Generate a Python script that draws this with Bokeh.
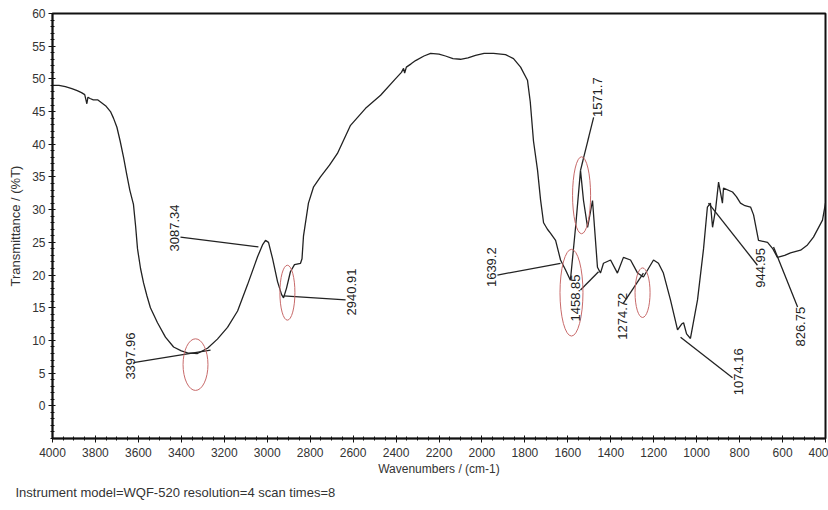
from bokeh.plotting import figure
from bokeh.models import Range1d, FixedTicker, Title, ColumnDataSource
from bokeh.embed import file_html
from bokeh.resources import INLINE
from bokeh.core.properties import value
import math

# ---- spectrum ----
wavenumber = [4000, 3970, 3940, 3910, 3885, 3865, 3850, 3845, 3840, 3835,
              3825, 3810, 3790, 3770, 3750, 3730, 3716, 3700, 3685, 3669,
              3655, 3640, 3623, 3613, 3604, 3590, 3576, 3560, 3544, 3511,
              3474, 3436, 3400, 3371, 3325, 3278, 3232, 3185, 3138, 3092,
              3045, 3022, 3008, 2994, 2975, 2952, 2933, 2924, 2910, 2892,
              2873, 2845, 2838, 2831, 2808, 2784, 2752, 2710, 2673, 2612,
              2542, 2472, 2403, 2375, 2365, 2360, 2352, 2330, 2309, 2270,
              2239, 2200, 2170, 2135, 2100, 2065, 2030, 1990, 1946, 1890,
              1853, 1820, 1788, 1775, 1760, 1741, 1727, 1713, 1695, 1681,
              1657, 1634, 1611, 1588, 1564, 1541, 1527, 1508, 1485, 1462,
              1448, 1434, 1401, 1369, 1341, 1308, 1275, 1248, 1201, 1178,
              1155, 1122, 1089, 1070, 1061, 1047, 1029, 996, 968, 950,
              936, 926, 912, 898, 880, 875, 833, 815, 796, 775,
              749, 735, 712, 670, 645, 624, 590, 563, 516, 484,
              456, 414, 400]
transmittance = [49.0, 49.0, 48.8, 48.5, 48.2, 47.9, 47.6, 46.9, 46.2, 47.2,
                 47.0, 46.8, 46.8, 46.3, 45.8, 45.0, 44.0, 42.6, 40.5, 38.0,
                 35.5, 33.0, 30.8, 27.5, 24.0, 21.0, 18.8, 16.8, 15.0, 12.7,
                 10.5, 9.0, 8.4, 8.1, 8.0, 8.8, 10.2, 12.0, 14.5, 18.5,
                 22.8, 24.6, 25.3, 25.0, 22.5, 19.0, 17.0, 16.5, 18.0, 20.5,
                 21.6, 21.8, 22.5, 26.0, 31.0, 33.5, 35.0, 36.8, 38.6, 42.9,
                 45.5, 47.5, 50.0, 51.0, 51.6, 50.9, 51.8, 52.3, 52.8, 53.5,
                 53.9, 53.8, 53.5, 53.1, 53.0, 53.2, 53.6, 53.9, 53.9, 53.7,
                 53.1, 51.8, 49.8, 46.5, 40.5, 36.0, 31.5, 28.0, 27.0, 26.4,
                 25.3, 22.3, 20.8, 19.2, 27.3, 36.0, 31.4, 27.3, 31.4, 21.2,
                 20.3, 21.8, 22.3, 20.3, 22.7, 22.3, 20.3, 19.7, 22.3, 21.8,
                 20.3, 16.2, 11.6, 12.5, 12.7, 11.0, 10.3, 16.2, 24.0, 30.4,
                 31.0, 27.3, 30.0, 34.2, 31.0, 33.3, 32.7, 32.0, 31.0, 30.6,
                 30.4, 29.2, 25.3, 25.0, 24.0, 22.7, 23.0, 23.4, 23.8, 24.6,
                 25.8, 28.4, 31.0]

# ---- peak annotations ----
peak_labels = ["3397.96", "3087.34", "2940.91", "1639.2", "1571.7",
               "1458.85", "1274.72", "1074.16", "944.95", "826.75"]
label_wn = [3637, 3432, 2607, 1955, 1462, 1564, 1345, 805, 703, 516]
label_t = [7.6, 27.2, 17.4, 21.2, 47.2, 16.5, 13.7, 5.2, 21.1, 12.1]
leader_wn0 = [3623, 3404, 2635, 1928, 1480, 1541, 1341, 833, 945, 642]
leader_t0 = [6.6, 25.8, 16.2, 20.0, 44.1, 17.7, 15.7, 4.3, 31.0, 24.3]
leader_wn1 = [3264, 3041, 2924, 1634, 1541, 1457, 1248, 1075, 717, 530]
leader_t1 = [8.5, 24.3, 16.8, 21.8, 36.0, 20.5, 20.3, 10.5, 21.5, 15.1]

ring_wn = [3334, 2906, 1536, 1583, 1252]
ring_t = [6.3, 17.3, 32.2, 17.3, 17.3]
ring_w = [116, 70, 84, 107, 70]
ring_h = [7.9, 8.4, 11.8, 13.3, 7.6]

y_ticks = [0, 5, 10, 15, 20, 25, 30, 35, 40, 45, 50, 55, 60]
x_ticks = [4000, 3800, 3600, 3400, 3200, 3000, 2800, 2600, 2400, 2200,
           2000, 1800, 1600, 1400, 1200, 1000, 800, 600, 400]

FONT = "Liberation Sans"

p = figure(width=828, height=510, x_range=Range1d(4000, 400), y_range=Range1d(-5, 60),
           output_backend="svg", toolbar_location=None,
           min_border_left=52, min_border_right=3, min_border_top=13, min_border_bottom=72)
p.background_fill_color = "white"
p.border_fill_color = "white"
p.xgrid.visible = False
p.ygrid.visible = False
p.outline_line_color = "#111111"
p.outline_line_width = 2
p.outline_line_alpha = 1

p.yaxis.ticker = FixedTicker(ticks=y_ticks, minor_ticks=list(range(-5, 61)))
p.xaxis.ticker = FixedTicker(ticks=x_ticks, minor_ticks=list(range(400, 4001, 50)))

for ax in (p.xaxis[0], p.yaxis[0]):
    ax.axis_line_color = "#111111"
    ax.axis_line_width = 1.5
    ax.major_tick_line_color = "#111111"
    ax.minor_tick_line_color = "#111111"
    ax.major_tick_in = 3
    ax.major_tick_out = 4
    ax.minor_tick_in = 2
    ax.minor_tick_out = 2
    ax.major_label_text_font = FONT
    ax.major_label_text_font_size = "12px"
    ax.major_label_text_color = "#333333"
    ax.axis_label_text_font = FONT
    ax.axis_label_text_font_style = "normal"
    ax.axis_label_text_color = "#333333"

p.xaxis.axis_label = "Wavenumbers / (cm-1)"
p.xaxis.axis_label_text_font_size = "12px"
p.xaxis.major_label_standoff = 5
p.xaxis.axis_label_standoff = 2
p.yaxis.axis_label = "Transmittance / (%T)"
p.yaxis.axis_label_text_font_size = "13px"
p.yaxis.major_label_standoff = 3
p.yaxis.axis_label_standoff = 6

p.line(wavenumber, transmittance, line_color="#222222", line_width=1.3)

lsrc = ColumnDataSource(dict(x0=leader_wn0, y0=leader_t0, x1=leader_wn1, y1=leader_t1))
p.segment(x0="x0", y0="y0", x1="x1", y1="y1", source=lsrc, line_color="#222222", line_width=1.3)

esrc = ColumnDataSource(dict(x=ring_wn, y=ring_t, w=ring_w, h=ring_h))
p.ellipse(x="x", y="y", width="w", height="h", source=esrc, fill_alpha=0,
          line_color="#c86a6a", line_width=1)

tsrc = ColumnDataSource(dict(x=label_wn, y=label_t, t=peak_labels))
p.text(x="x", y="y", text="t", source=tsrc, angle=math.pi / 2,
       text_align="center", text_baseline="middle",
       text_font=value(FONT), text_font_size="13px", text_color="#222222")

note = Title(text="Instrument model=WQF-520 resolution=4 scan times=8",
             align="left", offset=-37, standoff=8,
             text_font=FONT, text_font_size="13px", text_font_style="normal",
             text_color="#333333")
p.add_layout(note, "below")

open("out.html", "w").write(file_html(p, INLINE))
